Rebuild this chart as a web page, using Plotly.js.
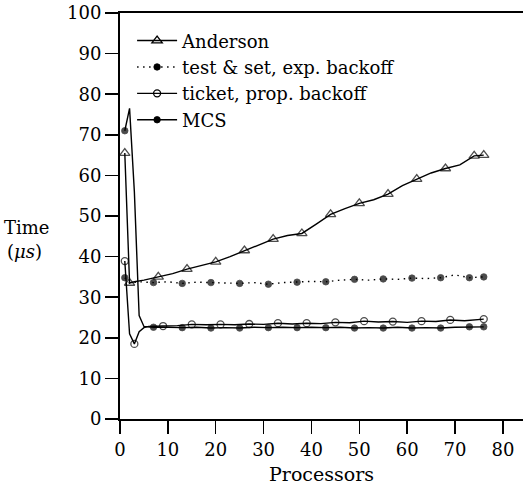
<!DOCTYPE html>
<html>
<head>
<meta charset="utf-8">
<script src="https://cdn.plot.ly/plotly-3.0.1.min.js"></script>
<style>html,body{margin:0;padding:0;background:#fff;}#chart{width:523px;height:486px;}</style>
</head>
<body>
<div id="chart"></div>
<script>
// Series names
const seriesNames = ["Anderson", "test & set, exp. backoff", "ticket, prop. backoff", "MCS"];

// Anderson
const andersonX = [1, 2, 3, 5, 8, 11, 14, 17, 20, 23, 26, 29, 32, 35, 38, 41, 44, 47, 50, 53, 56, 59, 62, 65, 68, 71, 74, 76];
const andersonY = [65.5, 33.5, 33.8, 34.2, 35.0, 35.8, 36.9, 37.8, 38.7, 40.0, 41.5, 43.0, 44.3, 45.2, 45.7, 48.0, 50.4, 51.8, 53.1, 54.0, 55.4, 57.5, 59.1, 60.6, 61.7, 62.6, 64.8, 65.0];
const andersonMarks = [1, 2, 8, 14, 20, 26, 32, 38, 44, 50, 56, 62, 68, 74, 76];

// test & set, exp. backoff
const tasX = [1, 2, 4, 7, 10, 13, 16, 19, 22, 25, 28, 31, 34, 37, 40, 43, 46, 49, 52, 55, 58, 61, 64, 67, 70, 73, 76];
const tasY = [34.8, 33.5, 33.8, 33.6, 33.8, 33.4, 33.7, 33.6, 33.5, 33.4, 33.6, 33.2, 33.6, 33.7, 33.9, 33.8, 34.2, 34.4, 34.2, 34.5, 34.4, 34.7, 34.6, 34.8, 35.5, 34.8, 35.0];
const tasMarks = [1, 7, 13, 19, 25, 31, 37, 43, 49, 55, 61, 67, 73, 76];

// ticket, prop. backoff
const ticketX = [1, 2, 3, 4, 5, 6, 9, 12, 15, 18, 21, 24, 27, 30, 33, 36, 39, 42, 45, 48, 51, 54, 57, 60, 63, 66, 69, 72, 76];
const ticketY = [38.9, 21.0, 18.5, 21.5, 22.5, 22.8, 22.9, 23.0, 23.3, 23.2, 23.3, 23.2, 23.4, 23.3, 23.6, 23.4, 23.6, 23.5, 23.8, 23.7, 24.1, 23.9, 24.0, 23.8, 24.1, 24.0, 24.4, 24.2, 24.6];
const ticketMarks = [1, 3, 9, 15, 21, 27, 33, 39, 45, 51, 57, 63, 69, 76];

// MCS
const mcsX = [1, 2, 3, 4, 5, 7, 10, 13, 16, 19, 22, 25, 28, 31, 34, 37, 40, 43, 46, 49, 52, 55, 58, 61, 64, 67, 70, 73, 76];
const mcsY = [71.0, 76.5, 56.0, 25.5, 22.8, 22.6, 22.6, 22.5, 22.6, 22.4, 22.5, 22.4, 22.6, 22.5, 22.6, 22.5, 22.6, 22.5, 22.6, 22.4, 22.5, 22.4, 22.6, 22.4, 22.5, 22.4, 22.6, 22.7, 22.7];
const mcsMarks = [1, 7, 13, 19, 25, 31, 37, 43, 49, 55, 61, 67, 73, 76];

// Axis ticks
const xTicks = [0, 10, 20, 30, 40, 50, 60, 70, 80];
const yTicks = [0, 10, 20, 30, 40, 50, 60, 70, 80, 90, 100];

const FONT = "DejaVu Serif";

function series(name, xs, ys, marks, symbol, size, dash, lw) {
  const sizes = xs.map(x => marks.includes(x) ? size : 0);
  const line = {color: "#000", width: 1.4, dash: dash};
  const marker = {symbol: symbol, color: "#000", line: {color: "#000", width: lw}};
  return [
    {type: "scatter", mode: "lines+markers", x: xs, y: ys, name: name, showlegend: false, legendgroup: name,
     line: line, marker: Object.assign({}, marker, {size: sizes}), cliponaxis: false},
    {type: "scatter", mode: "lines+markers", x: [null], y: [null], name: name, showlegend: true, legendgroup: name,
     line: line, marker: Object.assign({}, marker, {size: size})}
  ];
}

const data = [].concat(
  series(seriesNames[0], andersonX, andersonY, andersonMarks, "triangle-up-open", 9, "solid", 1.3),
  series(seriesNames[1], tasX, tasY, tasMarks, "circle", 6.5, "1.5px,4.5px", 0.8),
  series(seriesNames[2], ticketX, ticketY, ticketMarks, "circle-open", 7, "solid", 1.3),
  series(seriesNames[3], mcsX, mcsY, mcsMarks, "circle", 6.5, "solid", 0.8)
);

const layout = {
  width: 523, height: 486,
  margin: {l: 120, r: 0, t: 13, b: 67},
  paper_bgcolor: "#fff", plot_bgcolor: "#fff",
  font: {family: FONT, size: 18, color: "#000"},
  showlegend: true,
  legend: {x: 0.03, y: 0.977, xanchor: "left", yanchor: "top", bgcolor: "rgba(0,0,0,0)",
           font: {family: FONT, size: 18, color: "#000"}, itemwidth: 40, tracegroupgap: 5, traceorder: "normal"},
  xaxis: {range: [0, 84.2], tickvals: xTicks, ticktext: xTicks.map(String), ticks: "outside", ticklen: 13, tickwidth: 1.5,
          tickcolor: "#000", showline: true, linecolor: "#000", linewidth: 2, mirror: true, showgrid: false, zeroline: false,
          tickfont: {family: FONT, size: 18}, title: {text: "Processors", font: {family: FONT, size: 19}, standoff: 9}},
  yaxis: {range: [0, 100], tickvals: yTicks, ticktext: yTicks.map(String), ticks: "outside", ticklen: 13, tickwidth: 1.5,
          tickcolor: "#000", showline: true, linecolor: "#000", linewidth: 2, mirror: false, showgrid: false, zeroline: false,
          tickfont: {family: FONT, size: 18}},
  annotations: [
    {xref: "paper", yref: "paper", x: -0.233, y: (419 - 228) / 406, xanchor: "center", yanchor: "middle", showarrow: false,
     text: "Time", font: {family: FONT, size: 18, color: "#000"}},
    {xref: "paper", yref: "paper", x: -0.238, y: (419 - 251) / 406, xanchor: "center", yanchor: "middle", showarrow: false,
     text: "(<i>μs</i>)", font: {family: FONT, size: 18, color: "#000"}}
  ]
};

Plotly.newPlot("chart", data, layout, {displayModeBar: false, staticPlot: true});
</script>
</body>
</html>
